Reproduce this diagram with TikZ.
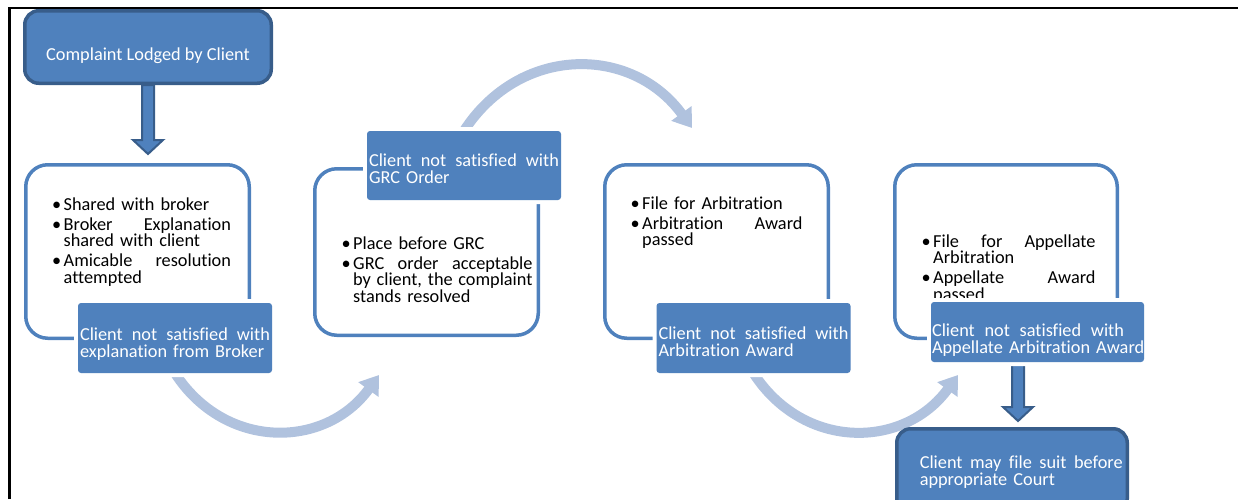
\documentclass[tikz,border=0pt]{standalone}
\usepackage{fontspec}
\setmainfont{Carlito}[Ligatures={NoCommon,NoRequired,NoContextual}]
\usepackage{enumitem}
\usetikzlibrary{arrows.meta, calc, backgrounds}
\setlength{\parindent}{0pt}

\definecolor{boxblue}{RGB}{79,129,189}
\definecolor{edgeblue}{RGB}{56,93,138}
\definecolor{arcblue}{RGB}{176,194,222}

\setlist[itemize]{label=\textbullet, leftmargin=11.5pt, labelwidth=9.5pt, labelsep=2pt, align=left, itemsep=3.2pt, topsep=0pt, parsep=0pt, partopsep=0pt}

\newcommand{\fillline}[2][\linewidth]{\makebox[#1][s]{\spaceskip=0pt\relax #2}}
\newcommand{\topgap}[1]{\rule{0pt}{#1}}
\newcommand{\blockdown}[2]{\draw[blockarrow] ($(#1)+(-6pt,0)$) -- ($(#2)+(-6pt,14pt)$) -- ($(#2)+(-15pt,14pt)$) -- (#2) -- ($(#2)+(15pt,14pt)$) -- ($(#2)+(6pt,14pt)$) -- ($(#1)+(6pt,0)$) -- cycle;}

\tikzstyle{panel} = [rectangle, rounded corners=22pt, draw=boxblue, line width=3.5pt, minimum width=223.5pt, minimum height=173.5pt]
\tikzstyle{points} = [anchor=north west, inner sep=0pt, align=left, font=\fontsize{18.3}{16.8}\selectfont]
\tikzstyle{note} = [rectangle, rounded corners=3pt, fill=boxblue, preaction={draw=white, line width=8pt}, text=white, text width=190pt, inner xsep=2pt, inner ysep=0pt, minimum height=70pt, align=left, font=\fontsize{18.3}{16.8}\selectfont]
\tikzstyle{terminal} = [rectangle, rounded corners=14pt, fill=boxblue, draw=edgeblue, line width=3.5pt, text=white, inner ysep=0pt, font=\fontsize{18.3}{16.8}\selectfont]
\tikzstyle{blockarrow} = [fill=boxblue, draw=edgeblue, line width=2pt, line join=miter]
\tikzstyle{curvearrow} = [draw=arcblue, line width=10pt, -{Triangle[width=24pt,length=18pt]}]

\begin{document}
\begin{tikzpicture}[x=1pt,y=1pt]
    \useasboundingbox (0,0) rectangle (1238,-499);
    \clip (0,0) rectangle (1238,-499);
    \draw [line width=2.5pt] (9.5,-499) -- (9.5,-8) -- (1238,-8);

    \node [terminal, minimum width=246.5pt, minimum height=72.5pt] at (148,-47) (top) {\topgap{30.6pt}Complaint Lodged by Client};

    \node [panel] at (137.5,-251.5) (box1) {};
    \node [panel, minimum height=166.5pt] at (426.5,-252) (box2) {};
    \node [panel] at (716.5,-251.5) (box3) {};
    \node [panel, minimum width=222.5pt] at (1006,-251.5) (box4) {};

    \node [points, text width=178.8pt] at (52,-193) (list1) {\begin{itemize}
        \item Shared with broker
        \item \fillline{Broker Explanation}\\ shared with client
        \item \fillline{Amicable resolution}\\ attempted
    \end{itemize}};
    \node [points, text width=190.8pt] at (341.5,-232) (list2) {\begin{itemize}
        \item Place before GRC
        \item \fillline{GRC order acceptable}\\ \fillline{by client, the complaint}\\ stands resolved
    \end{itemize}};
    \node [points, text width=171.8pt] at (630.5,-192) (list3) {\begin{itemize}
        \item File for Arbitration
        \item \fillline{Arbitration Award}\\ passed
    \end{itemize}};
    \node [points, text width=173.8pt] at (921.5,-230) (list4) {\begin{itemize}
        \item \fillline{File for Appellate}\\ Arbitration
        \item \fillline{Appellate Award}\\ passed
    \end{itemize}};

    \node [note] at (175,-338) (blue1) {\topgap{25.4pt}\fillline{Client not satisfied with}\\explanation from Broker};
    \node [note, minimum height=69pt] at (464,-165.5) (blue2) {\topgap{19.8pt}\fillline{Client not satisfied with}\\GRC Order};
    \node [note] at (753.5,-338) (blue3) {\topgap{20.8pt}\fillline{Client not satisfied with}\\Arbitration Award};
    \node [note, text width=211pt, inner xsep=1pt, minimum height=60pt] at (1037.5,-332) (blue4) {\topgap{29.4pt}\fillline[192pt]{Client not satisfied with}\\\mbox{Appellate Arbitration Award}};

    \node [terminal, text width=222.5pt, inner xsep=4pt, align=left, minimum height=84pt] at (1012,-470.75) (court) {\topgap{15.9pt}\hspace*{19pt}\fillline[203pt]{Client may file suit before}\\\hspace*{19pt}appropriate Court};

    \begin{scope}[on background layer]
        \coordinate (tip1) at (379,-375);
        \coordinate (tip2) at (692,-128);
        \coordinate (tip3) at (958,-375);
        \coordinate (drop1) at ($(top.south |- box1.north)+(0,9pt)$);
        \coordinate (lift2) at ($(blue4.south)+(-19.5pt,0)$);
        \coordinate (drop2) at ($(court.north)+(6pt,6pt)$);
        \draw [curvearrow] (blue1.south) to[out=-57, in=-126, looseness=1.15] (tip1);
        \draw [curvearrow] (blue2.north) to[out=57, in=126, looseness=1.15] (tip2);
        \draw [curvearrow] (blue3.south) to[out=-57, in=-126, looseness=1.15] (tip3);
        \blockdown{top.south}{drop1}
        \blockdown{lift2}{drop2}
    \end{scope}
\end{tikzpicture}
\end{document}
